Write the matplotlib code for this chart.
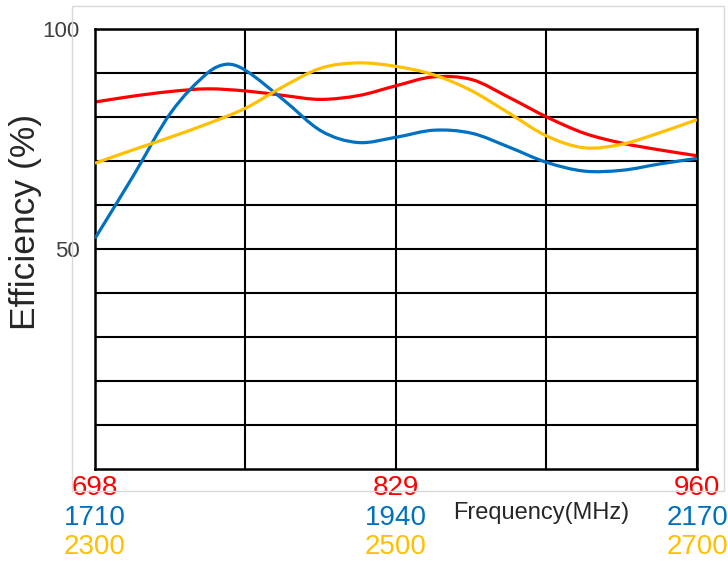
import numpy as np
import matplotlib.pyplot as plt
from matplotlib.path import Path
from matplotlib.patches import PathPatch, Rectangle

plt.rcParams['font.family'] = ['Liberation Sans', 'DejaVu Sans']

# low band (red), MHz
red_freq = [698, 714, 731, 747, 764, 780, 796, 813, 829, 845, 862, 878, 895,
            911, 927, 944, 960]
red_eff = [83.4, 84.7, 85.8, 86.4, 85.9, 84.9, 84.0, 84.9, 87.1, 89.1, 88.5, 84.5, 79.9,
           76.3, 74.1, 72.5, 71.2]

# mid band (blue), MHz
blue_freq = [1710, 1739, 1768, 1796, 1811, 1825, 1854, 1883, 1911, 1940, 1969, 1998,
             2026, 2055, 2084, 2113, 2141, 2170]
blue_eff = [52.4, 66.5, 81.0, 90.0, 92.0, 90.6, 83.9, 76.8, 74.2, 75.4, 77.0, 76.3,
            73.2, 69.7, 67.7, 67.9, 69.3, 70.6]

# high band (yellow), MHz
yellow_freq = [2300, 2325, 2350, 2375, 2400, 2425, 2450, 2475, 2500, 2525, 2550, 2575,
               2600, 2625, 2650, 2675, 2700]
yellow_eff = [69.5, 72.5, 75.4, 78.5, 82.0, 86.9, 91.1, 92.3, 91.5, 89.6, 86.0, 80.9,
              75.7, 73.0, 73.8, 76.4, 79.4]

red_ticks = [698, 829, 960]
blue_ticks = [1710, 1940, 2170]
yellow_ticks = [2300, 2500, 2700]

RED = '#FF0000'
BLUE = '#0070C0'
YELLOW = '#FFC000'


def smooth_path(xs, ys):
    # hermite curve through the read points (slopes from neighbours), as beziers
    x = np.asarray(xs, float)
    y = np.asarray(ys, float)
    m = np.empty_like(y)
    m[1:-1] = (y[2:] - y[:-2]) / (x[2:] - x[:-2])
    m[0] = (y[1] - y[0]) / (x[1] - x[0])
    m[-1] = (y[-1] - y[-2]) / (x[-1] - x[-2])
    verts = [(x[0], y[0])]
    codes = [Path.MOVETO]
    for i in range(len(x) - 1):
        h = x[i + 1] - x[i]
        verts += [(x[i] + h / 3, y[i] + m[i] * h / 3),
                  (x[i + 1] - h / 3, y[i + 1] - m[i + 1] * h / 3),
                  (x[i + 1], y[i + 1])]
        codes += [Path.CURVE4] * 3
    return Path(verts, codes)


fig = plt.figure(figsize=(7.28, 5.61), dpi=100)
fig.patches.append(Rectangle((72 / 728, 1 - 491 / 561), 652 / 728, 485 / 561,
                             transform=fig.transFigure, fill=False,
                             edgecolor='#D9D9D9', lw=1))

ax = fig.add_axes([95 / 728, 1 - 469 / 561, 602 / 728, 440 / 561])
ax.set_xlim(red_ticks[0], red_ticks[-1])
ax.set_ylim(0, 100)
ax.set_yticks([50, 100])
ax.set_yticks(np.arange(10, 100, 10), minor=True)
ax.set_xticks(red_ticks)
ax.set_xticks([(red_ticks[0] + red_ticks[1]) / 2, (red_ticks[1] + red_ticks[2]) / 2], minor=True)
ax.grid(True, which='both', color='black', lw=1.5)
ax.set_axisbelow(True)
ax.tick_params(which='both', length=0)
ax.tick_params(axis='y', labelsize=16, labelcolor='#404040', pad=11)
ax.tick_params(axis='x', labelsize=20, labelcolor=RED, pad=4)
for s in ax.spines.values():
    s.set_linewidth(1.8)

ax2 = ax.twiny()
ax2.set_xlim(blue_ticks[0], blue_ticks[-1])
ax2.xaxis.tick_bottom()
ax2.set_xticks(blue_ticks)
ax2.tick_params(length=0, labelsize=20, labelcolor=BLUE, pad=26)
for s in ax2.spines.values():
    s.set_visible(False)

ax3 = ax.twiny()
ax3.set_xlim(yellow_ticks[0], yellow_ticks[-1])
ax3.xaxis.tick_bottom()
ax3.set_xticks(yellow_ticks)
ax3.tick_params(length=0, labelsize=20, labelcolor=YELLOW, pad=47)
for s in ax3.spines.values():
    s.set_visible(False)

ax.add_patch(PathPatch(smooth_path(red_freq, red_eff), fill=False, edgecolor=RED, lw=2.3))
ax2.add_patch(PathPatch(smooth_path(blue_freq, blue_eff), fill=False, edgecolor=BLUE, lw=2.3))
ax3.add_patch(PathPatch(smooth_path(yellow_freq, yellow_eff), fill=False, edgecolor=YELLOW, lw=2.3))

fig.text(26 / 728, 1 - 222 / 561, 'Efficiency (%)', rotation=90, fontsize=25.5,
         color='#262626', ha='center', va='center')
fig.text(453 / 728, 1 - 513 / 561, 'Frequency(MHz)', fontsize=17,
         color='#262626', ha='left', va='center')

fig.savefig('out.png', dpi=100)
